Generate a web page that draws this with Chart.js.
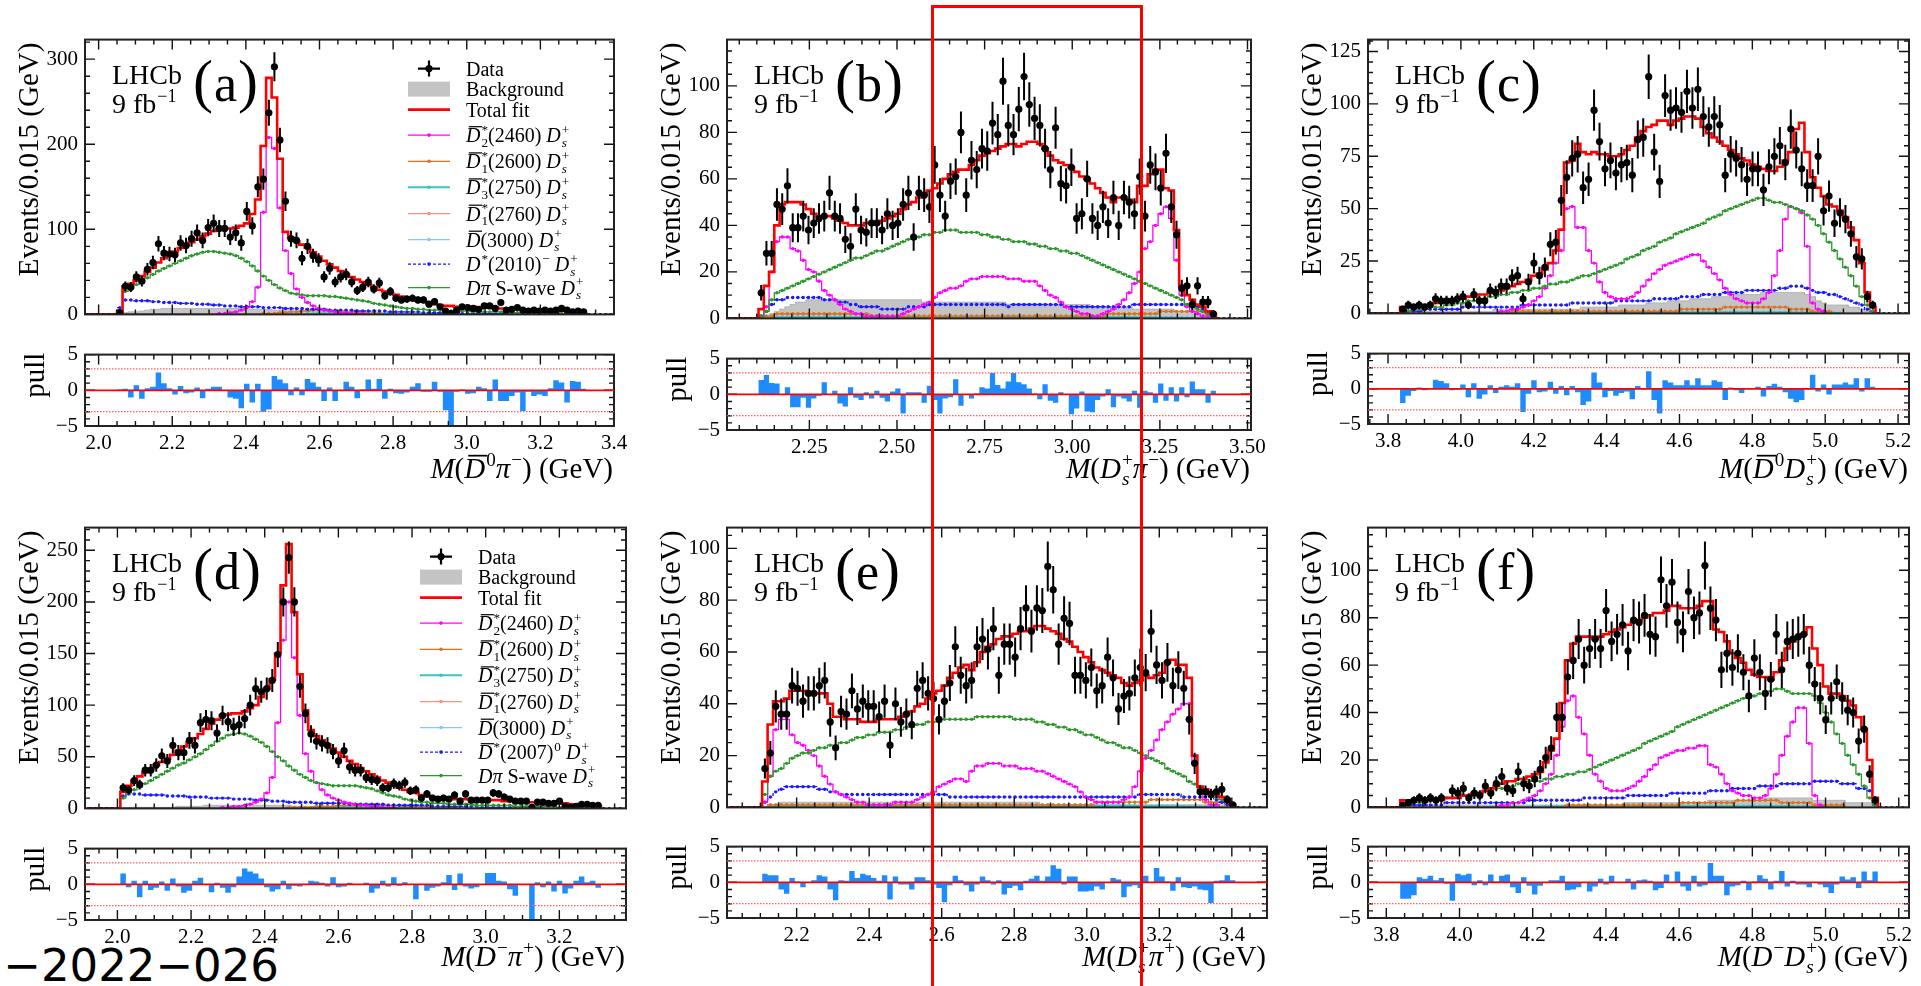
<!DOCTYPE html>
<html>
<head>
<meta charset="utf-8">
<script src="https://cdn.jsdelivr.net/npm/chart.js@4.4.1/dist/chart.umd.min.js"></script>
<style>
  body { margin: 0; width: 1921px; height: 986px; overflow: hidden; position: relative; background: #fff; }
  canvas { position: absolute; }
  #box { position: absolute; left: 931px; top: 5px; width: 212px; height: 1000px; border: 3px solid #ff0000; box-sizing: border-box; }
  #tag { position: absolute; left: 0; top: 943px; width: 279px; text-align: right; font: 45px/45px "DejaVu Sans"; color: #000; }
</style>
</head>
<body>
<div id="tag">−2022−026</div>

<script>
var BIN = 0.015;

// ---- (a) M(D0bar pi-) ----
var a_x0 = 1.96;
var a_data = [0,0,0,0,0,0, 2,33,32,44,39,53,61,83,72,71, 70,84,81,89,96,87,102,107,101,101, 91,96,84,121,104,150,159,237,291,205, 133,89,87,66,80,69,64,44,54,38, 44,47,38,28,32,38,30,37,22,27, 19,17,18,19,17,17,12,15,9,4, 1,5,9,8,7,6,10,10,7,14, 5,6,8,5,4,5,4,5,4,5, 7,5,3,4,3, 0,0,0,0,0];
var a_fit = [0,0,0,0,0,0, 3,33,36,40,45,50,55,61,66,70, 74,78,81,85,88,92,95,98,100,101, 101,102,104,107,118,135,198,278,255,183, 97,90,86,82,78,73,68,63,59,55, 51,47,44,41,38,35,32,29,27,25, 23,21,19,18,16,15,13,12,11,10, 10,9,9,9,9,8,8,8,8,7, 7,7,7,6,6,6,6,5,5,5, 4,4,3,2,1];
var a_swave = [0,0,0,0,0,0, 0,27,31,35,39,43,47,51,54,57, 60,63,66,69,71,73,74,74,73,72, 71,69,66,62,57,51,45,40,35,31, 28,25,24,23,22,22,22,22,21,21, 20,19,18,17,16,15,13,12,11,10, 9,8,7,7,6,6,5,5,5,4, 4,4,4,4,3,3,3,3,3,3, 3,2,2,2,2,2,2,2,1,1, 1,1,1,1,1];
var a_d2 = [0,0,0,0,0,0, 0,0,0,0,0,0,0,0,0,0, 0,0,0,0,0,0,0,0,1,1, 2,3,5,8,15,32,120,208,195,125, 75,48,30,20,14,10,7,5,4,3, 2,2,1,1,1];
var a_dstar = [0,0,0,0,0,0, 8,17,17,16,16,16,15,15,14,14, 14,13,13,13,12,12,12,11,11,10, 10,10,9,9,9,9,8,8,8,8, 7,7,7,7,6,6,6,6,5,5, 5,5,5,4,4,4,4,4,4,3, 3,3,3,3,3,2,2,2,2,2, 2,2,1,1,1,1,1,1,1,1, 1,1,1,1];
var a_d1 = [0,0,0,0,0,0, 0,0,0,0,0,0,0,0,0,0, 0,0,0,0,0,0,0,0,0,0, 0,0,0,0,0,0,1,1,1,2, 2,3,3,4,4,5,5,5,5,4, 4,3,3,2,2,1,1,1];
var a_d3 = [0,0,0,0,0,0, 0,0,0,0,0,0,0,0,0,0, 0,0,0,0,0,0,0,0,0,0, 0,0,0,0,0,0,0,0,0,0, 0,0,0,0,0.5,0.5,1,1,1,1, 1,1,1,1,1,1,1,1,0.5,0.5];
var a_d1b = [0,0,0,0,0,0, 0,0,0,0,0,0,0,0,0,0, 0,0,0,0,0,0,0,0,0,0, 0,0,0,0,0,0,0,0,0,0, 0,0,0,0,0,0,0.5,0.5,0.5,0.5, 0.5,0.5,0.5,0.5,0.5,0.5];
var a_d3k = [0,0,0,0,0,0, 0,0,0,0,0,0,0,0,0,0, 0,0,0,0,0,0,0,0,0,0, 0,0,0,0,0,0,0,0,0,0, 0,0,0,0,0,0,0,0,0,0, 0,0,0,0,0,0,0,0,0.5,0.5, 1,1,1,1,1,1,1,1,1,1, 1,1,0.5,0.5];
var a_bkg = [0,0,0,0,0,0, 1,2,3,3,4,5,6,6,7,7, 7,7,7,7,7,7,7,7,7,7, 7,7,7,6,6,6,6,6,5,5, 5,5,5,4,4,4,4,4,4,3, 3,3,3,3,3,3,2,2,2,2, 2,2,2,2,2,2,2,1,1,1, 1,1,1,1,1,1,1,1,1,1, 1,1];
var a_pull = [0,0,0,0,0,0, 0.1,0.2,-1,0.7,-1.2,0.3,0.5,2.5,1.0,0.3, -0.6,0.6,-0.4,-0.3,0.4,-1.1,0.2,0.5,0.5,0, -1,-1.2,-2.5,0.9,-1.7,0.9,-3,-2.7,2,1.5, 1,-0.7,0.4,-0.7,1.6,1.1,0.5,-1.5,0.4,-1.5, 0,1.2,0.5,-1.1,0.1,1.5,0.2,1.6,-1.2,0.2, -0.4,-0.5,-0.3,0.5,1,-0.2,-0.2,1.2,-0.2,-2.8, -5,-0.2,0.1,-0.5,-0.4,0.5,0.3,-1.5,1.5,-1.5, -1.5,-0.8,-0.3,-2.9,-0.2,-0.8,-0.6,-0.8,0.3,1.4, 1.1,-1.7,1.3,1.2,0.2];

// ---- (b) M(Ds+ pi-) ----
var b_x0 = 2.015;
var b_data = [0,0,0,0,0,0, 11,28,28,49,47,57,39,39,44,38, 41,43,44,54,44,43,34,31,47,38, 37,41,41,38,45,40,41,49,54,35, 54,53,48,66,53,44,59,61,80,53, 68,64,73,72,84,79,102,83,79,90, 104,92,86,83,73,64,82,58,57,65, 43,45,60,43,40,48,41,52,40,52, 50,45,61,44,66,63,56,71,48,36, 13,14,6,14,7,7,2, 0,0,0,0,0,0];
var b_fit = [0,0,0,0,0,0, 4,14,20,40,49,50,50,50,49,47, 45,44,44,44,43,42,41,40,40,40, 41,41,41,42,43,44,45,47,49,50, 52,53,55,56,58,60,62,63,64,64, 66,68,70,71,72,73,74,75,75,74, 75,76,76,75,73,70,68,67,66,65, 63,61,60,58,56,54,52,50,52,52, 51,50,57,57,62,64,64,56,55,38, 14,10,8,6,5,3,2];
var b_swave = [0,0,0,0,0,0, 1,3,8,11,12,13,14,15,16,17, 18,19,20,21,22,23,24,25,26,26, 27,28,29,29,30,31,32,33,34,34, 35,36,36,37,37,38,38,38,37,37, 37,37,36,36,35,35,34,34,33,33, 33,32,32,31,31,30,30,29,29,28, 28,27,26,25,24,23,22,21,20,19, 18,17,16,15,14,13,12,11,10,9, 8,6,5,4,3,2,1];
var b_d2 = [0,0,0,0,0,0, 0,5,20,33,35,35,30,29,25,21, 20,16,12,10,8,6,4,3,2,2, 1,1,1,1,1,1,1,2,3,4, 5,6,7,9,11,12,13,13,14,16, 17,17,18,18,18,18,18,17,17,17, 16,16,16,14,12,10,9,7,5,4, 3,2,2,1,1,2,3,4,6,8, 11,15,20,30,33,40,45,48,43,25, 10,5,3,2,1,1,0];
var b_dstar = [0,0,0,0,0,0, 1,3,6,8,8,9,9,9,9,9, 9,9,8,8,8,7,7,6,6,5, 5,5,5,4,4,4,4,4,5,5, 5,5,6,6,6,6,6,6,6,6, 6,6,6,6,6,6,6,5,6,6, 6,6,6,6,6,6,6,6,5,5, 5,5,5,5,5,5,5,5,5,5, 5,6,6,6,6,6,6,6,6,6, 6,6,5,5,4,3,1];
var b_d1 = [0,0,0,0,0,0, 0,1,1,2,2,2,2,2,2,2, 2,2,2,2,2,2,2,2,2,2, 2,1,1,1,1,1,1,1,1,1, 1,1,1,1,1,1,1,1,1,1, 1,1,1,1,1,1,1,1,1,1, 1,1,1,1,1,1,1,1,1,1, 1,1,1,1,1,1,2,2,2,2, 2,2,2,2,2,2,3,3,3,3, 3,3,3,3,3,2,1];
var b_d3 = [0,0,0,0,0,0, 0,0.3,0.4,0.4,0.5,0.5,0.5,0.5,0.5,0.5, 0.5,0.5,0.5,0.5,0.5,0.5,0.5,0.5,0.5,0.5, 0.6,0.6,0.6,0.6,0.6,0.6,0.6,0.6,0.6,0.6, 0.6,0.6,0.6,0.6,0.6,0.6,0.6,0.6,0.6,0.6, 0.6,0.6,0.6,0.6,0.6,0.6,0.6,0.6,0.6,0.6, 0.5,0.5,0.5,0.5,0.5,0.5,0.5,0.5,0.5,0.5, 0.5,0.5,0.5,0.5,0.5,0.5,0.5,0.5,0.5,0.5, 0.4,0.4,0.4,0.4,0.4,0.3,0.3,0.3,0.3,0.2, 0.2,0.2,0.1];
var b_d1b = [0,0,0,0,0,0, 0,0,0,0,0,0,0,0,0,0, 0,0,0,0,0,0,0,0,0,0, 0,0,0,0,0,0,0.3,0.3,0.3,0.3, 0.4,0.4,0.4,0.4,0.4,0.4,0.4,0.4,0.4,0.4, 0.4,0.4,0.4,0.3,0.3,0.3,0.3,0.3,0.3,0.3];
var b_d3k = [0,0,0,0,0,0, 0,0.4,0.5,0.5,0.6,0.6,0.6,0.6,0.6,0.6, 0.7,0.7,0.7,0.7,0.7,0.7,0.7,0.7,0.7,0.7, 0.7,0.7,0.7,0.7,0.7,0.7,0.7,0.7,0.7,0.7, 0.8,0.8,0.8,0.8,0.8,0.8,0.8,0.8,0.8,0.8, 0.8,0.8,0.8,0.8,0.8,0.8,0.8,0.8,0.8,0.8, 0.8,0.8,0.8,0.8,0.8,0.8,0.8,0.8,0.8,0.8, 0.8,0.8,0.8,0.8,0.8,0.8,0.8,0.8,0.8,0.8, 0.7,0.7,0.7,0.7,0.6,0.6,0.5,0.5,0.4,0.3, 0.2,0.1];
var b_bkg = [0,0,0,0,0,0, 0,1,2,3,4,5,6,7,7,8, 8,8,8,8,8,8,8,8,8,8, 8,8,8,8,8,8,8,8,8,8, 8,7,7,7,7,7,7,7,7,7, 7,7,7,7,7,7,7,6,6,6, 6,6,6,6,6,6,6,6,6,6, 6,6,6,5,5,5,5,5,5,5, 5,4,4,4,4,4,4,4,4,3, 3,3,3,3,3,2,1];
var b_pull = [0,0,0,0,0,0, 2.0,2.7,1.6,1.5,0,1.0,-1.8,-1.8,-0.5,-1.9, -0.6,-0.2,1.7,-0.1,0.5,-1.3,-1.7,1.0,-0.5,-0.8, 0.3,-0.6,0.5,-0.5,-1.0,0.4,0.8,-2.7,0.3,0.3, 0.3,-1.2,1.2,-0.8,-2.7,-0.6,-0.4,2.1,-1.6,0, -0.6,0.1,1.0,0.8,3.0,1.3,0.8,1.8,3.0,1.7, 1.4,0.8,0.1,-0.7,1.4,-0.9,-1.2,0.3,-0.1,-2.8, -2.0,0.4,-2.4,-2.5,-0.8,-0.3,0.7,-1.8,-0.3,-0.6, -1.0,0.5,-1.9,0.5,0.3,-1.2,1.5,-0.9,1.0,-1.0, 1.0,-0.4,1.8,0.7,0.7,-1.2,0.5];

// ---- (c) M(D0bar Ds+) ----
var c_x0 = 3.743;
var c_data = [0,0,0,0,0,0, 2,4,3,4,3,4,7,6,6,6, 7,8,4,9,6,6,11,10,13,13, 17,18,7,15,24,18,22,33,34,54, 65,74,76,60,64,97,82,69,73,67, 71,72,66,83,84,113,77,63,104,97, 98,96,106,98,107,94,89,94,90,66, 76,74,71,64,69,69,59,70,75,80, 72,88,78,69,61,61,75,49,56,43, 48,45,38,27,26,8,4, 0,0,0,0,0,0];
var c_fit = [0,0,0,0,0,0, 3,3,3,4,4,4,5,5,6,6, 7,7,8,8,9,9,10,11,11,12, 13,14,15,16,18,19,21,24,30,40, 72,73,81,77,76,77,76,76,75,75, 76,78,80,84,87,89,90,92,92,90, 92,93,94,94,93,89,86,84,82,80, 78,76,74,73,71,70,69,68,68,70, 73,77,88,91,77,65,60,56,52,51, 49,46,41,35,24,10,3];
var c_swave = [0,0,0,0,0,0, 1,1,2,2,2,3,3,3,4,4, 5,5,6,6,7,7,8,8,9,9, 10,10,11,11,12,12,13,14,14,15, 15,16,17,18,18,19,20,21,22,23, 24,26,27,28,30,31,32,34,35,36, 38,39,40,41,42,43,45,46,47,49, 50,51,52,53,54,55,55,54,53,53, 52,51,50,49,47,45,42,38,34,30, 26,22,18,13,8,4,1];
var c_d2 = [0,0,0,0,0,0, 0,0,0,0,0,0,0,0,0,0, 0,0,0,0,0,0,0,0,1,1, 2,2,3,4,6,8,12,18,24,30, 50,51,41,41,30,24,15,10,8,7, 7,7,8,10,13,16,19,21,23,24, 25,26,27,28,28,25,22,19,16,12, 9,7,6,5,5,5,7,10,18,30, 45,51,50,48,32,5,2,1];
var c_dstar = [0,0,0,0,0,0, 1,1,1,1,2,2,2,2,2,2, 2,3,3,3,3,3,3,3,3,3, 3,3,4,4,4,4,4,4,4,4, 4,5,5,5,5,5,5,5,5,6, 6,6,6,6,6,6,7,7,7,7, 7,8,8,8,8,9,9,9,9,10, 10,10,10,11,11,11,11,11,11,12, 12,13,13,13,12,11,10,10,9,9, 8,7,6,5,4,2,1];
var c_d1 = [0,0,0,0,0,0, 0,0,0,0,0,0,0,0,0,0, 0,0,0,0,0,0,0,0,0,0, 1,1,1,1,1,1,1,1,1,1, 1,1,1,1,1,1,1,1,1,1, 1,1,1,1,1,1,1,1,1,1, 1,2,2,2,2,2,2,2,2,3, 3,3,3,3,3,3,3,3,3,3, 3,2,2,2,2,1,1,1,1];
var c_d3 = [0,0,0,0,0,0, 0,0,0,0,0,0,0,0,0,0, 0,0,0,0,0,0,0,0,0,0, 0,0,0,0,0,0,0.3,0.3,0.4,0.4, 0.4,0.5,0.5,0.5,0.5,0.5,0.5,0.5,0.5,0.5, 0.5,0.5,0.5,0.5,0.5,0.5,0.5,0.5,0.5,0.5, 0.5,0.5,0.5,0.5,0.5,0.5,0.5,0.5,0.5,0.5, 0.5,0.5,0.5,0.5,0.5,0.5,0.5,0.5,0.5,0.5, 0.5,0.4,0.4,0.4,0.3,0.3,0.3,0.2,0.2,0.2, 0.1];
var c_d1b = [0,0,0,0,0,0, 0,0,0,0,0,0,0,0,0,0, 0,0,0,0,0,0,0,0,0,0, 0,0,0,0,0,0,0,0,0,0, 0,0,0,0,0.3,0.3,0.3,0.3,0.3,0.3, 0.3,0.3,0.3,0.3,0.3,0.3,0.3,0.3,0.3,0.3, 0.3,0.3,0.3,0.3,0.3,0.3,0.3,0.3,0.3,0.3];
var c_d3k = [0,0,0,0,0,0, 0,0,0,0,0,0,0,0,0,0, 0,0,0,0,0.3,0.3,0.3,0.3,0.4,0.4, 0.4,0.4,0.4,0.4,0.5,0.5,0.5,0.5,0.5,0.5, 0.5,0.5,0.5,0.5,0.5,0.5,0.5,0.5,0.5,0.5, 0.5,0.5,0.5,0.5,0.5,0.5,0.5,0.5,0.5,0.5, 0.5,0.5,0.5,0.5,0.5,0.5,0.5,0.5,0.5,0.5, 0.4,0.4,0.4,0.4,0.4,0.4,0.4,0.4,0.3,0.3, 0.3,0.3,0.3,0.2,0.2,0.2,0.1];
var c_bkg = [0,0,0,0,0,0, 0,0,0,1,1,1,1,1,1,1, 1,1,1,1,1,1,1,2,2,2, 2,2,2,2,2,2,2,2,2,2, 2,2,2,3,3,3,3,3,3,3, 4,4,4,4,4,5,5,5,5,6, 6,6,6,7,7,7,7,8,8,8, 8,9,9,9,9,9,10,10,10,10, 10,10,10,10,9,8,6,5,4,4, 4,4,3,3,2,1,1];
var c_pull = [0,0,0,0,0,0, -2.0,-1.0,-0.3,0.2,-0.2,0,1.3,1.1,0.8,-0.2, -0.1,0.6,-1.2,0.8,-1.4,-0.8,0.5,-0.6,0.3,0.5, 0.3,0.8,-3.3,-0.7,1.2,-0.5,-0.4,1.0,-0.7,0.4, -0.9,0.4,-0.5,-2.3,-1.8,2.3,0.9,-1.2,-0.3,-1.0, -0.6,-0.4,-1.5,0.4,-0.1,2.5,-1.6,-3.5,1.2,0.9, 0.5,0.5,1.2,0.5,1.5,0.5,0.5,1.2,1.0,-1.6, 0.2,-0.2,-0.6,0.1,0.1,0.3,-1.1,0.4,0.7,0.3, -0.5,-1.4,-1.9,-1.6,-0.1,2.0,-0.4,0.6,-0.8,0.6, 0.6,0.9,0.6,1.5,-0.4,1.5,0.3];

// ---- (d) M(D- pi+) ----
var d_x0 = 1.918;
var d_data = [0,0,0,0,0,0, 20,18,27,23,37,37,42,51,46,61, 54,54,66,61,83,86,85,73,90,84, 79,81,87,100,116,113,116,124,149,200, 243,200,118,92,72,65,63,61,55,46, 56,40,37,37,30,28,27,20,20,24, 22,25,17,18,10,14,10,9,10,9, 13,7,14,8,8,8,8,15,14,11, 9,7,7,7,1,6,6,5,5,7, 2,1,2,4,4,3,3, 0,0,0,0];
var d_fit = [0,0,0,0,0,0, 16,22,27,31,35,38,42,45,48,52, 56,60,64,68,72,77,82,86,90,91, 92,92,94,97,100,108,116,125,150,216, 256,190,130,95,76,70,66,62,58,54, 50,46,43,39,36,33,30,27,25,22, 20,18,16,15,13,12,11,10,10,9, 9,9,9,9,8,8,8,8,8,7, 7,7,7,6,6,6,6,5,5,5, 5,4,4,4,3,3,2];
var d_swave = [0,0,0,0,0,0, 10,15,18,21,24,27,30,33,36,39, 42,44,47,50,53,57,61,65,68,71, 72,73,72,70,67,64,60,55,50,46, 41,37,33,30,27,25,24,23,22,22, 22,22,22,21,20,19,17,15,13,12, 11,9,8,7,6,6,5,5,5,4, 4,4,4,4,3,3,3,3,3,3, 3,2,2,2,2,2,2,2,2,1, 1,1,1,1,1,1,1];
var d_d2 = [0,0,0,0,0,0, 0,0,0,0,0,0,0,0,0,0, 0,0,0,0,0,0,0,0,1,1, 2,2,3,4,6,9,15,30,83,163, 200,146,90,53,36,25,18,13,10,8, 6,5,4,3,3,2,2,1,1,1];
var d_dstar = [0,0,0,0,0,0, 12,14,14,14,13,13,13,13,12,12, 12,12,11,11,11,11,10,10,10,10, 9,9,9,9,8,8,8,7,7,7, 6,6,6,6,6,5,5,5,5,5, 5,4,4,4,4,4,4,4,3,3, 3,3,3,3,3,3,2,2,2,2, 2,2,2,2,2,1,1,1,1,1, 1,1,1,1,1,1];
var d_d1 = [0,0,0,0,0,0, 0,0,0,0,0,0,0,0,0,0, 0,0,0,0,0,0,0,0,0,0, 0,0,0,0,0,0,0,0,0,0, 1,1,1,1,1,2,2,2,2,3, 3,3,3,3,3,3,3,3,3,3, 3,2,2,2,2,2,1,1,1,1, 1];
var d_d3 = [0,0,0,0,0,0, 0,0,0,0,0,0,0,0,0,0, 0,0,0,0,0,0,0,0,0,0, 0,0,0,0,0,0,0,0,0,0, 0,0,0,0,0,0.5,0.5,0.5,1,1, 1,1,1,1,1,1,1,1,0.5,0.5, 0.5,0.5];
var d_d1b = [0,0,0,0,0,0, 0,0,0,0,0,0,0,0,0,0, 0,0,0,0,0,0,0,0,0,0, 0,0,0,0,0,0,0,0,0,0, 0,0,0,0,0,0,0,0.5,0.5,0.5, 0.5,0.5,0.5,0.5,0.5,0.5,0.5,0.5];
var d_d3k = [0,0,0,0,0,0, 0,0,0,0,0,0,0,0,0,0, 0,0,0,0,0,0,0,0,0,0, 0,0,0,0,0,0,0,0,0,0, 0,0,0,0,0,0,0,0,0,0, 0,0,0,0,0,0,0,0,0.5,0.5, 0.5,1,1,1,1,1,1,1,1,1, 1,0.5,0.5,0.5];
var d_bkg = [0,0,0,0,0,0, 1,1,1,1,1,1,1,1,1,1, 2,2,2,2,2,3,3,3,3,3, 3,3,3,3,3,3,3,3,3,3, 3,2,2,2,2,2,2,2,2,2, 2,2,2,2,2,2,2,2,2,2, 2,1,1,1,1,1,1,1,1,1, 1,1,1,1,1,1,1,1,1,1, 1,1,1,1,1,1,1,1,1,1, 1,1,1,1,1,1,1];
var d_pull = [0,0,0,0,0,0, 1.5,-0.4,0.5,-1.8,0.5,-0.8,-0.5,0.4,-0.9,0.8, -0.3,-1.2,-0.9,0.5,0.9,0,-1.1,0.2,-0.5,-1.2, -0.4,1.1,2.2,1.8,1.5,0.8,-0.4,-1.0,-0.7,0.5, -0.7,-0.2,-0.3,0,0.5,0.4,0.2,-0.3,1.0,-0.4, -0.3,0.2,0,0,0.2,-1.2,-0.6,0.5,-0.3,1.0, -0.2,0.3,0,-2.1,0,-0.9,-0.5,-0.3,0.3,1.3, -0.8,1.5,-0.3,-0.6,-0.4,0,1.6,1.6,0.5,0.4, -0.7,-1.6,0,0,-5,0.3,-0.4,0.4,-1.0,0.5, -1.3,-0.6,0.5,1.1,0.3,0.5,-0.5];

// ---- (e) M(Ds+ pi+) ----
var e_x0 = 2.015;
var e_data = [0,0,0,0,0,0, 15,21,39,36,36,47,46,41,44,44, 47,49,33,23,37,36,45,38,41,39, 39,35,41,24,40,33,36,32,46,49, 44,42,34,41,48,62,51,47,49,62, 65,61,69,51,63,63,58,69,77,68, 77,76,93,84,63,73,71,51,51,49, 54,45,47,58,50,38,43,44,50,54, 52,68,55,49,56,47,53,46,34,17, 6,6,5,6,7,3,1, 0,0,0,0,0];
var e_fit = [0,0,0,0,0,0, 10,32,41,41,42,45,45,45,44,44, 44,44,40,35,35,34,34,34,33,33, 33,34,34,34,34,35,36,37,39,40, 42,44,45,47,50,52,54,55,53,56, 60,62,63,65,66,66,67,68,68,69, 70,70,69,68,67,65,64,62,60,58, 56,54,53,52,51,50,48,47,48,49, 51,50,51,52,56,57,55,55,50,20, 8,7,6,5,4,3,1];
var e_swave = [0,0,0,0,0,0, 5,12,14,15,17,19,20,21,21,22, 23,23,24,24,25,25,26,27,27,28, 28,29,29,29,30,30,31,31,32,32, 33,33,33,34,34,34,34,34,34,35, 35,35,35,35,35,35,34,34,34,34, 33,33,32,32,31,31,30,30,29,28, 28,27,26,25,25,24,23,23,22,21, 20,19,18,17,15,14,13,12,10,9, 7,6,5,4,3,2,1];
var e_d2 = [0,0,0,0,0,0, 2,12,30,34,34,28,25,24,22,20, 16,12,9,6,5,4,3,2,2,1, 1,1,1,1,2,2,2,2,3,4, 5,6,8,9,10,11,11,10,14,16, 16,17,17,17,16,16,16,15,15,15, 14,14,13,12,11,10,9,8,6,4, 3,2,2,2,2,2,3,4,8,14, 19,22,26,30,33,36,38,40,40,17, 8,3,1,1];
var e_dstar = [0,0,0,0,0,0, 2,4,6,7,8,8,8,8,8,8, 7,7,6,6,5,5,5,5,5,5, 5,5,5,5,5,5,5,5,5,5, 5,5,5,5,4,4,4,4,4,4, 4,4,4,4,4,4,4,4,4,4, 4,4,4,4,4,4,4,4,4,4, 4,4,4,4,4,4,4,4,4,5, 5,5,5,5,5,5,5,4,4,4, 4,4,4,3,2,1,1];
var e_d1 = [0,0,0,0,0,0, 0,1,1,1,1,1,1,1,1,1, 1,1,1,1,1,1,1,1,1,1, 1,1,1,1,1,1,1,1,1,1, 1,1,1,1,1,1,1,1,1,1, 1,1,1,1,1,1,1,1,1,1, 1,1,1,1,1,1,1,1,1,1, 1,2,2,2,2,2,2,2,2,2, 2,3,3,3,3,3,3,3,3,3, 3,2,2,2,2,1,1];
var e_d3 = [0,0,0,0,0,0, 0,0.3,0.4,0.4,0.5,0.5,0.5,0.5,0.5,0.5, 0.5,0.5,0.5,0.5,0.5,0.5,0.5,0.5,0.5,0.5, 0.6,0.6,0.6,0.6,0.6,0.6,0.6,0.6,0.6,0.6, 0.6,0.6,0.6,0.6,0.6,0.6,0.6,0.6,0.6,0.6, 0.6,0.6,0.6,0.6,0.6,0.6,0.6,0.6,0.6,0.6, 0.5,0.5,0.5,0.5,0.5,0.5,0.5,0.5,0.5,0.5, 0.5,0.5,0.5,0.5,0.5,0.5,0.5,0.5,0.5,0.5, 0.4,0.4,0.4,0.4,0.4,0.3,0.3,0.3,0.3,0.2, 0.2,0.2,0.1];
var e_d1b = [0,0,0,0,0,0, 0,0,0,0,0,0,0,0,0,0, 0,0,0,0,0,0,0,0,0,0, 0,0,0,0,0,0,0.3,0.3,0.3,0.3, 0.4,0.4,0.4,0.4,0.4,0.4,0.4,0.4,0.4,0.4, 0.4,0.4,0.4,0.3,0.3,0.3,0.3,0.3,0.3,0.3];
var e_d3k = [0,0,0,0,0,0, 0,0.4,0.5,0.5,0.6,0.6,0.6,0.6,0.6,0.6, 0.7,0.7,0.7,0.7,0.7,0.7,0.7,0.7,0.7,0.7, 0.7,0.7,0.7,0.7,0.7,0.7,0.7,0.7,0.7,0.7, 0.8,0.8,0.8,0.8,0.8,0.8,0.8,0.8,0.8,0.8, 0.8,0.8,0.8,0.8,0.8,0.8,0.8,0.8,0.8,0.8, 0.8,0.8,0.8,0.8,0.8,0.8,0.8,0.8,0.8,0.8, 0.8,0.8,0.8,0.8,0.8,0.8,0.8,0.8,0.8,0.8, 0.7,0.7,0.7,0.7,0.6,0.6,0.5,0.5,0.4,0.3, 0.2,0.1];
var e_bkg = [0,0,0,0,0,0, 0,1,1,2,2,2,2,2,2,2, 2,2,2,2,2,2,2,2,2,2, 2,2,2,2,2,2,2,2,2,2, 2,2,2,2,2,2,2,2,2,2, 2,2,2,2,2,2,2,2,2,2, 2,1,1,1,1,1,1,1,1,1, 1,1,1,1,1,1,1,1,1,1, 1,1,1,1,1,1,1,1,1,1, 1,1,1,1,1,1,1];
var e_pull = [0,0,0,0,0,0, 1.2,1.0,1.0,-1.0,-1.6,0.6,0.1,-0.7,0,0.3, 1.0,0.8,-1.0,-2.5,0.3,0.2,1.6,0.6,1.2,1.0, 0.6,0.2,1.0,-2.4,0.8,-0.3,-0.3,-1.0,0.7,0.7, 0.3,-0.3,-0.8,-2.8,-0.4,0.9,0.3,-0.4,-1.3,-0.3, 0.8,0.3,-0.3,0.3,-1.7,-0.8,-0.5,-1.1,0.2,0.5, 0.9,0.2,0.8,2.4,1.9,-0.3,0.8,0.8,-1.3,-1.3, -1.2,-0.6,-1.0,0,0.6,0.4,-2.1,-0.6,-0.4,-0.8, 0.9,0,2.0,0.8,0.1,-1.2,0.7,-0.7,-0.8,-0.6, -1.0,-1.1,-2.9,0.2,0.3,1.0,0.3];

// ---- (f) M(D- Ds+) ----
var f_x0 = 3.748;
var f_data = [0,0,0,0,0,0, 1,2,3,4,3,4,3,4,0,7, 6,8,4,6,5,9,6,10,13,8, 7,15,10,9,12,16,21,25,38,38, 55,62,71,60,67,71,67,83,70,73, 77,66,79,78,81,73,72,96,85,95, 78,74,91,80,82,102,84,79,58,65, 59,65,57,47,63,57,48,54,73,58, 70,71,72,73,60,52,46,37,46,53, 46,41,40,28,33,14,3, 0,0,0,0,0];
var f_fit = [0,0,0,0,0,0, 3,3,3,3,3,3,3,3,4,4, 4,5,5,6,6,7,8,9,10,11, 11,12,12,13,14,15,19,24,29,44, 62,69,72,72,72,71,72,73,74,75, 76,77,78,79,80,81,82,82,83,85, 85,84,84,84,85,87,87,75,74,70, 65,63,61,58,56,55,55,54,57,62, 67,70,72,73,76,67,60,51,48,48, 47,45,43,38,33,20,4];
var f_swave = [0,0,0,0,0,0, 1,1,2,2,2,3,3,3,4,4, 4,5,5,6,6,7,7,8,8,9, 9,10,10,11,11,11,12,12,13,13, 14,14,15,15,16,17,18,19,20,21, 22,23,24,25,27,28,29,30,31,32, 34,35,36,37,38,39,40,41,42,43, 44,45,46,47,47,48,49,49,50,50, 49,48,48,48,48,47,44,40,36,31, 27,22,18,14,9,4,1];
var f_d2 = [0,0,0,0,0,0, 0,0,0,0,0,0,0,0,0,0, 0,0,0,0,0,0,0,0,1,1, 2,2,3,4,5,7,10,14,22,34, 45,47,38,31,22,14,11,8,7,7, 7,8,9,11,13,16,18,21,22,23, 24,24,25,25,26,26,18,17,14,10, 7,6,5,5,4,4,5,8,14,22, 30,36,42,42,27,5,1];
var f_dstar = [0,0,0,0,0,0, 1,1,1,1,1,1,1,1,2,2, 2,2,2,2,2,2,2,2,2,2, 2,2,2,3,3,3,3,3,3,3, 3,3,3,4,4,4,4,4,4,4, 4,5,5,5,5,5,5,5,5,6, 6,6,6,6,6,6,7,7,7,7, 8,8,8,8,8,9,9,9,9,10, 10,10,10,10,10,11,11,11,11,11, 10,10,10,8,8,7,1];
var f_d1 = [0,0,0,0,0,0, 0,0,0,0,0,0,0,0,0,0, 0,0,0,0,0,0,0,0,0,0, 0,0,0,0,0,0,0,0,0,0, 1,1,1,1,1,1,1,1,1,1, 1,1,1,1,1,1,1,1,1,1, 1,2,2,2,2,2,2,2,2,2, 2,3,3,3,3,3,3,3,3,2, 2,2,2,2,2,1,1,1,1,1, 1];
var f_d3 = [0,0,0,0,0,0, 0,0,0,0,0,0,0,0,0,0, 0,0,0,0,0,0,0,0,0,0, 0,0,0,0,0,0,0.3,0.3,0.4,0.4, 0.4,0.5,0.5,0.5,0.5,0.5,0.5,0.5,0.5,0.5, 0.5,0.5,0.5,0.5,0.5,0.5,0.5,0.5,0.5,0.5, 0.5,0.5,0.5,0.5,0.5,0.5,0.5,0.5,0.5,0.5, 0.5,0.5,0.5,0.5,0.5,0.5,0.5,0.5,0.5,0.5, 0.5,0.4,0.4,0.4,0.3,0.3,0.3,0.2,0.2,0.2, 0.1];
var f_d1b = [0,0,0,0,0,0, 0,0,0,0,0,0,0,0,0,0, 0,0,0,0,0,0,0,0,0,0, 0,0,0,0,0,0,0,0,0,0, 0,0,0,0,0.3,0.3,0.3,0.3,0.3,0.3, 0.3,0.3,0.3,0.3,0.3,0.3,0.3,0.3,0.3,0.3, 0.3,0.3,0.3,0.3,0.3,0.3,0.3,0.3,0.3,0.3];
var f_d3k = [0,0,0,0,0,0, 0,0,0,0,0,0,0,0,0,0, 0,0,0,0,0.3,0.3,0.3,0.3,0.4,0.4, 0.4,0.4,0.4,0.4,0.5,0.5,0.5,0.5,0.5,0.5, 0.5,0.5,0.5,0.5,0.5,0.5,0.5,0.5,0.5,0.5, 0.5,0.5,0.5,0.5,0.5,0.5,0.5,0.5,0.5,0.5, 0.5,0.5,0.5,0.5,0.5,0.5,0.5,0.5,0.5,0.5, 0.4,0.4,0.4,0.4,0.4,0.4,0.4,0.4,0.3,0.3, 0.3,0.3,0.3,0.2,0.2,0.2,0.1];
var f_bkg = [0,0,0,0,0,0, 1,1,1,1,1,1,1,1,1,1, 1,1,1,1,1,1,1,1,1,1, 1,1,1,1,1,1,1,1,1,1, 1,1,1,1,1,1,1,1,1,1, 1,2,2,2,2,2,2,2,2,2, 2,2,2,2,2,2,3,3,3,3, 3,3,3,3,3,3,4,4,4,4, 4,4,4,4,4,3,3,3,3,3, 3,2,2,2,2,2,2];
var f_pull = [0,0,0,0,0,0, -2.3,-2.3,-1.8,0.7,0.5,0.9,0.3,0.6,-0.2,-2.6, 1.2,1.0,1.2,-0.4,0.3,-0.4,1.1,0.1,0.9,1.1, -0.7,-1.5,0.7,-0.5,-1.7,-0.5,0,0.3,0.3,0.9, -1.1,-1.0,-0.7,0,-1.3,-0.6,0.5,-0.3,0.9,0, 0,0.5,-1.0,0.3,0.4,0.2,-1.1,-0.8,1.1,0, 1.5,-0.6,-1.2,0.9,-0.6,-0.4,2.7,0.9,0.9,-1.8, -0.6,-0.4,0.2,-1.1,0.1,1.0,0.5,-1.0,0.2,1.6, -0.6,0.2,-0.3,-0.3,-0.7,0,-0.3,-0.7,-1.5,-0.3, 0.8,0.4,0.7,-0.8,1.5,0.3,1.5];

// ---------------------------------------------------------------
var SERIF = '"Liberation Serif", "Times New Roman", serif';

// component styles: D(3000), D1*(2760), D3*(2750), D1*(2600), D*, D2*(2460), S-wave
var COMP = [
  { c: '#86c6f2', w: 1.2 },
  { c: '#f5937f', w: 1.2 },
  { c: '#38c4c4', w: 2 },
  { c: '#e0701e', w: 1.3 },
  { c: '#1a1aff', w: 1.4, dash: [3, 2] },
  { c: '#ff00ff', w: 1.3 },
  { c: '#2c962c', w: 1.3 }
];

var DS = [['D', 'i'], ['+', 'uk'], ['s', 'di']];
var LEG_COMMON = [
  { k: 'data', t: [['Data']] },
  { k: 'bkg', t: [['Background']] },
  { k: 'fit', t: [['Total fit']] },
  { k: 5, t: [['D', 'io'], ['*', 'uk'], ['2', 'd'], ['(2460) ']].concat(DS) },
  { k: 3, t: [['D', 'io'], ['*', 'uk'], ['1', 'd'], ['(2600) ']].concat(DS) },
  { k: 2, t: [['D', 'io'], ['*', 'uk'], ['3', 'd'], ['(2750) ']].concat(DS) },
  { k: 1, t: [['D', 'io'], ['*', 'uk'], ['1', 'd'], ['(2760) ']].concat(DS) },
  { k: 0, t: [['D', 'io'], ['(3000) ']].concat(DS) }
];
var LEG_SWAVE = { k: 6, t: [['D', 'i'], ['π', 'i'], [' S-wave ']].concat(DS) };
var LEG_A = LEG_COMMON.concat([{ k: 4, t: [['D', 'i'], ['*', 'u'], ['(2010)'], ['−', 'u'], [' ']].concat(DS) }, LEG_SWAVE]);
var LEG_D = LEG_COMMON.concat([{ k: 4, t: [['D', 'io'], ['*', 'u'], ['(2007)'], ['0', 'u'], [' ']].concat(DS) }, LEG_SWAVE]);
var LEG_ROWS = [29, 49.5, 70, 95.5, 121.7, 147.7, 174, 200, 224.5, 248];

var PANELS = [
  { tag: 'a', box: [85, 35, 614, 319], pbox: [350, 426], xr: [1.963, 3.4], ymax: 323, ymaj: 100, ymin: 20, xmaj: 0.2, dec: 1, titleY: 478,
    x0: a_x0, data: a_data, fit: a_fit, bkg: a_bkg, comps: [a_d3k, a_d1b, a_d3, a_d1, a_dstar, a_d2, a_swave], pull: a_pull,
    xt: [['M', 'i'], ['('], ['D', 'io'], ['0', 'u'], ['π', 'i'], ['−', 'u'], [') (GeV)']], leg: { sx: 323, tx: 381, rows: LEG_A } },
  { tag: 'b', box: [727, 35, 1251, 323], pbox: [354, 430], xr: [2.015, 3.51], ymax: 119.9, ymaj: 20, ymin: 5, xmaj: 0.25, dec: 2, titleY: 478,
    x0: b_x0, data: b_data, fit: b_fit, bkg: b_bkg, comps: [b_d3k, b_d1b, b_d3, b_d1, b_dstar, b_d2, b_swave], pull: b_pull,
    xt: [['M', 'i'], ['('], ['D', 'i'], ['+', 'uk'], ['s', 'di'], ['π', 'i'], ['−', 'u'], [') (GeV)']] },
  { tag: 'c', box: [1368, 35, 1909, 318], pbox: [349, 424], xr: [3.745, 5.23], ymax: 130.7, ymaj: 25, ymin: 5, xmaj: 0.2, dec: 1, titleY: 478,
    x0: c_x0, data: c_data, fit: c_fit, bkg: c_bkg, comps: [c_d3k, c_d1b, c_d3, c_d1, c_dstar, c_d2, c_swave], pull: c_pull,
    xt: [['M', 'i'], ['('], ['D', 'io'], ['0', 'u'], ['D', 'i'], ['+', 'uk'], ['s', 'di'], [') (GeV)']] },
  { tag: 'd', box: [85, 523, 626, 813], pbox: [844, 920], xr: [1.912, 3.381], ymax: 272, ymaj: 50, ymin: 10, xmaj: 0.2, dec: 1, titleY: 966,
    x0: d_x0, data: d_data, fit: d_fit, bkg: d_bkg, comps: [d_d3k, d_d1b, d_d3, d_d1, d_dstar, d_d2, d_swave], pull: d_pull,
    xt: [['M', 'i'], ['('], ['D', 'i'], ['−', 'u'], ['π', 'i'], ['+', 'u'], [') (GeV)']], leg: { sx: 335, tx: 393, rows: LEG_D } },
  { tag: 'e', box: [727, 523, 1267, 812], pbox: [842, 918], xr: [2.008, 3.497], ymax: 108, ymaj: 20, ymin: 5, xmaj: 0.2, dec: 1, titleY: 966,
    x0: e_x0, data: e_data, fit: e_fit, bkg: e_bkg, comps: [e_d3k, e_d1b, e_d3, e_d1, e_dstar, e_d2, e_swave], pull: e_pull,
    xt: [['M', 'i'], ['('], ['D', 'i'], ['+', 'uk'], ['s', 'di'], ['π', 'i'], ['+', 'u'], [') (GeV)']] },
  { tag: 'f', box: [1368, 523, 1909, 812], pbox: [842, 918], xr: [3.75, 5.228], ymax: 118, ymaj: 20, ymin: 5, xmaj: 0.2, dec: 1, titleY: 966,
    x0: f_x0, data: f_data, fit: f_fit, bkg: f_bkg, comps: [f_d3k, f_d1b, f_d3, f_d1, f_dstar, f_d2, f_swave], pull: f_pull,
    xt: [['M', 'i'], ['('], ['D', 'i'], ['−', 'u'], ['D', 'i'], ['+', 'uk'], ['s', 'di'], [') (GeV)']] }
];

// histogram outline: bin edges plus a marked centre point per bin
function steps(x0, vals) {
  var pts = [];
  vals.forEach(function (v, i) {
    var lo = x0 + i * BIN;
    pts.push({ x: lo, y: v }, { x: lo + BIN / 2, y: v, c: 1 }, { x: lo + BIN, y: v });
  });
  pts.push({ x: x0 + vals.length * BIN, y: 0 });
  return pts;
}
function centres(x0, vals) {
  return vals.map(function (v, i) { return { x: x0 + (i + 0.5) * BIN, y: v }; });
}

// small rich-text writer: flags i=italic o=overline u=sup d=sub k=keep x (stack next)
function rich(ctx, x, y, size, toks, right) {
  var parts = toks.map(function (tk) {
    var f = tk[1] || '';
    var fs = /[ud]/.test(f) ? size * 0.66 : size;
    var font = (f.indexOf('i') >= 0 ? 'italic ' : '') + fs + 'px ' + SERIF;
    ctx.font = font;
    return { t: tk[0], f: f, font: font, w: ctx.measureText(tk[0]).width };
  });
  var total = 0, keep = 0;
  parts.forEach(function (p) {
    var dx = /[ud]/.test(p.f) ? 1 : 0;
    if (p.f.indexOf('k') >= 0) keep = p.w; else { total += Math.max(p.w, keep) + dx; keep = 0; }
  });
  var cx = right ? x - total : x;
  keep = 0;
  ctx.textAlign = 'left';
  ctx.textBaseline = 'alphabetic';
  parts.forEach(function (p) {
    ctx.font = p.font;
    var dy = p.f.indexOf('u') >= 0 ? -0.42 * size : (p.f.indexOf('d') >= 0 ? 0.24 * size : 0);
    var dx = /[ud]/.test(p.f) ? 1 : 0;
    ctx.fillText(p.t, cx + dx, y + dy);
    if (p.f.indexOf('o') >= 0) ctx.fillRect(cx + 0.14 * size, y - 0.8 * size, p.w - 0.06 * size, Math.max(1.2, size * 0.06));
    if (p.f.indexOf('k') >= 0) keep = p.w; else { cx += Math.max(p.w, keep) + dx; keep = 0; }
  });
}

function tickLoop(scale, minor, major, fn) {
  var n0 = Math.ceil(scale.min / minor - 1e-6);
  for (var n = n0; n * minor <= scale.max + 1e-9; n++) {
    var v = n * minor, r = v / major;
    fn(scale.getPixelForValue(v), Math.abs(r - Math.round(r)) < 1e-4);
  }
}

// plain ticks in whole steps, never the axis end itself
function stepTicks(step) {
  return function (s) {
    var out = [];
    var n0 = Math.ceil(s.min / step - 1e-6);
    for (var n = n0; n * step <= s.max + 1e-9; n++) out.push({ value: Math.round(n * step * 1000) / 1000 });
    s.ticks = out;
  };
}

// frame with inward major/minor ticks on all four sides
var framePlugin = {
  id: 'frame',
  afterDatasetsDraw: function (chart, args, o) {
    var ctx = chart.ctx, a = chart.chartArea, sx = chart.scales.x, sy = chart.scales.y;
    ctx.save();
    ctx.strokeStyle = '#111';
    ctx.lineWidth = 1.4;
    ctx.beginPath();
    tickLoop(sx, o.xmin, o.xmaj, function (p, big) {
      var L = big ? 10 : 5;
      ctx.moveTo(p, a.bottom); ctx.lineTo(p, a.bottom - L);
      ctx.moveTo(p, a.top); ctx.lineTo(p, a.top + L);
    });
    tickLoop(sy, o.ymin, o.ymaj, function (p, big) {
      var L = big ? 10 : 5;
      ctx.moveTo(a.left, p); ctx.lineTo(a.left + L, p);
      ctx.moveTo(a.right, p); ctx.lineTo(a.right - L, p);
    });
    ctx.stroke();
    ctx.lineWidth = 2;
    ctx.strokeStyle = '#222';
    ctx.strokeRect(a.left, a.top, a.right - a.left, a.bottom - a.top);
    ctx.restore();
  }
};

// vertical Poisson error bars under the data markers
var errPlugin = {
  id: 'errs',
  beforeDatasetDraw: function (chart, args) {
    var ds = chart.data.datasets[args.index];
    if (!ds.poisson) return;
    var ctx = chart.ctx, sy = chart.scales.y;
    ctx.save();
    ctx.strokeStyle = '#000';
    ctx.lineWidth = 2;
    ctx.beginPath();
    args.meta.data.forEach(function (el, i) {
      var n = ds.data[i].y;
      if (n <= 0) return;
      var e = Math.sqrt(n);
      ctx.moveTo(el.x, sy.getPixelForValue(n - e));
      ctx.lineTo(el.x, sy.getPixelForValue(n + e));
    });
    ctx.stroke();
    ctx.restore();
  }
};

function legendSymbol(ctx, k, x, y) {
  ctx.save();
  if (k === 'data') {
    ctx.strokeStyle = '#000'; ctx.lineWidth = 2.2;
    ctx.beginPath();
    ctx.moveTo(x + 10, y); ctx.lineTo(x + 32, y);
    ctx.moveTo(x + 21, y - 8); ctx.lineTo(x + 21, y + 8);
    ctx.stroke();
    ctx.beginPath(); ctx.arc(x + 21, y, 3.6, 0, 2 * Math.PI); ctx.fillStyle = '#000'; ctx.fill();
  } else if (k === 'bkg') {
    ctx.fillStyle = '#c4c4c4';
    ctx.fillRect(x, y - 7.5, 42, 15);
  } else if (k === 'fit') {
    ctx.strokeStyle = '#ff0000'; ctx.lineWidth = 2.6;
    ctx.beginPath(); ctx.moveTo(x, y); ctx.lineTo(x + 42, y); ctx.stroke();
  } else {
    var s = COMP[k];
    ctx.strokeStyle = s.c; ctx.lineWidth = s.w;
    if (s.dash) ctx.setLineDash(s.dash);
    ctx.beginPath(); ctx.moveTo(x, y); ctx.lineTo(x + 42, y); ctx.stroke();
    ctx.setLineDash([]);
    ctx.fillStyle = s.c;
    ctx.beginPath(); ctx.arc(x + 21, y, 1.8, 0, 2 * Math.PI); ctx.fill();
  }
  ctx.restore();
}

var mainText = {
  id: 'mainText',
  afterDraw: function (chart, args, o) {
    var ctx = chart.ctx, a = chart.chartArea;
    ctx.save();
    ctx.fillStyle = '#000';
    ctx.textAlign = 'left';
    ctx.textBaseline = 'alphabetic';
    ctx.font = '28px ' + SERIF;
    ctx.fillText('LHCb', a.left + 27, a.top + 44);
    ctx.fillText('9 fb', a.left + 27, a.top + 73);
    var w9 = ctx.measureText('9 fb').width;
    ctx.font = '18px ' + SERIF;
    ctx.fillText('−1', a.left + 28 + w9, a.top + 62);
    var bx = a.left + 108, by = a.top + 61;
    ctx.font = '60px ' + SERIF;
    ctx.fillText('(', bx, by);
    bx += ctx.measureText('(').width + 1;
    ctx.font = '52px ' + SERIF;
    ctx.fillText(o.tag, bx, by);
    bx += ctx.measureText(o.tag).width + 1;
    ctx.font = '60px ' + SERIF;
    ctx.fillText(')', bx, by);

    if (o.leg) {
      o.leg.rows.forEach(function (r, i) {
        var yc = a.top + LEG_ROWS[i];
        legendSymbol(ctx, r.k, a.left + o.leg.sx, yc);
        ctx.fillStyle = '#000';
        rich(ctx, a.left + o.leg.tx, yc + 7, 20, r.t, false);
      });
    }

    ctx.save();
    ctx.translate(a.left - 47, a.top + 3);
    ctx.rotate(-Math.PI / 2);
    ctx.font = '29px ' + SERIF;
    ctx.textAlign = 'right';
    ctx.fillText('Events/0.015 (GeV)', 0, 0);
    ctx.restore();
    ctx.restore();
  }
};

var pullText = {
  id: 'pullText',
  afterDatasetsDraw: function (chart) {
    var ctx = chart.ctx, a = chart.chartArea, sy = chart.scales.y;
    ctx.save();
    ctx.strokeStyle = '#ff5a5a';
    ctx.lineWidth = 1.2;
    ctx.setLineDash([1.5, 1.5]);
    [3, -3].forEach(function (v) {
      var p = sy.getPixelForValue(v);
      ctx.beginPath(); ctx.moveTo(a.left, p); ctx.lineTo(a.right, p); ctx.stroke();
    });
    ctx.setLineDash([]);
    ctx.strokeStyle = '#ff0000';
    ctx.lineWidth = 1.8;
    var z = sy.getPixelForValue(0);
    ctx.beginPath(); ctx.moveTo(a.left, z); ctx.lineTo(a.right, z); ctx.stroke();
    ctx.restore();
  },
  afterDraw: function (chart, args, o) {
    var ctx = chart.ctx, a = chart.chartArea;
    ctx.save();
    ctx.fillStyle = '#000';
    ctx.save();
    ctx.translate(a.left - 41, (a.top + a.bottom) / 2 - 15);
    ctx.rotate(-Math.PI / 2);
    ctx.font = '29px ' + SERIF;
    ctx.textAlign = 'center';
    ctx.fillText('pull', 0, 0);
    ctx.restore();
    rich(ctx, a.right - 1, o.titleY - o.top, 29, o.xt, true);
    ctx.restore();
  }
};

function mkCanvas(left, top, w, h) {
  var c = document.createElement('canvas');
  c.width = w; c.height = h;
  c.style.left = left + 'px'; c.style.top = top + 'px';
  c.style.width = w + 'px'; c.style.height = h + 'px';
  document.body.appendChild(c);
  return c;
}

var PL = 80, PR = 30, PT = 15, PB = 15, PBX = 72;
var tickFont = { family: SERIF, size: 21 };

PANELS.forEach(function (p) {
  var L = p.box[0], T = p.box[1], R = p.box[2], B = p.box[3];

  var sets = [];
  sets.push({ data: centres(p.x0, p.data), poisson: true, order: 0, showLine: false,
    pointRadius: function (c) { return c.raw && c.raw.y > 0 ? 3.6 : 1.4; },
    pointBackgroundColor: '#000', pointBorderWidth: 0 });
  sets.push({ data: steps(p.x0, p.fit), order: 1, showLine: true, borderColor: '#ff0000', borderWidth: 2.6,
    pointRadius: 0, tension: 0 });
  p.comps.forEach(function (vals, k) {
    var s = COMP[k];
    sets.push({ data: steps(p.x0, vals), order: 9 - k, showLine: true, borderColor: s.c, borderWidth: s.w,
      borderDash: s.dash || [], tension: 0, pointBackgroundColor: s.c, pointBorderWidth: 0,
      pointRadius: function (c) { return c.raw && c.raw.c && c.raw.y > 0 ? 1.7 : 0; } });
  });
  sets.push({ data: steps(p.x0, p.bkg), order: 20, showLine: true, fill: 'origin', backgroundColor: '#c4c4c4',
    borderColor: '#ababab', borderWidth: 0.8, pointRadius: 0, tension: 0 });

  var cm = mkCanvas(L - PL, T - PT, R - L + PL + PR, B - T + PT + PB);
  new Chart(cm, {
    type: 'scatter',
    data: { datasets: sets },
    options: {
      responsive: false, animation: false, events: [],
      layout: { padding: { top: PT, right: PR, bottom: PB, left: 0 } },
      plugins: {
        legend: { display: false }, tooltip: { enabled: false },
        frame: { xmaj: p.xmaj, xmin: 0.05, ymaj: p.ymaj, ymin: p.ymin },
        mainText: { tag: p.tag, leg: p.leg }
      },
      scales: {
        x: { type: 'linear', display: false, min: p.xr[0], max: p.xr[1] },
        y: { type: 'linear', min: 0, max: p.ymax,
          afterFit: function (s) { s.width = PL; },
          afterBuildTicks: stepTicks(p.ymaj),
          grid: { display: false, drawTicks: false }, border: { display: false },
          ticks: { padding: 7, color: '#000', font: tickFont,
            callback: function (v) { return String(Math.round(v)); } } }
      }
    },
    plugins: [framePlugin, errPlugin, mainText]
  });

  var pT = p.pbox[0], pB = p.pbox[1];
  var cp = mkCanvas(L - PL, pT - PT, R - L + PL + PR, pB - pT + PT + PBX);
  var pullPts = [];
  p.pull.forEach(function (v, i) {
    var lo = p.x0 + i * BIN;
    pullPts.push({ x: lo, y: v }, { x: lo + BIN, y: v });
  });
  new Chart(cp, {
    type: 'scatter',
    data: { datasets: [{ data: pullPts, showLine: true, fill: 'origin', backgroundColor: '#1e8cff',
      borderWidth: 0, pointRadius: 0, tension: 0 }] },
    options: {
      responsive: false, animation: false, events: [],
      layout: { padding: { top: PT, right: PR, bottom: 0, left: 0 } },
      plugins: {
        legend: { display: false }, tooltip: { enabled: false },
        frame: { xmaj: p.xmaj, xmin: 0.05, ymaj: 5, ymin: 1 },
        pullText: { xt: p.xt, titleY: p.titleY, top: pT - PT }
      },
      scales: {
        x: { type: 'linear', min: p.xr[0], max: p.xr[1],
          afterFit: function (s) { s.height = PBX; },
          afterBuildTicks: stepTicks(p.xmaj),
          grid: { display: false, drawTicks: false }, border: { display: false },
          ticks: { autoSkip: false, maxRotation: 0, padding: 5, color: '#000', font: tickFont,
            callback: function (v) { return Number(v).toFixed(p.dec); } } },
        y: { type: 'linear', min: -5, max: 5,
          afterFit: function (s) { s.width = PL; },
          afterBuildTicks: stepTicks(5),
          grid: { display: false, drawTicks: false }, border: { display: false },
          ticks: { padding: 7, color: '#000', font: tickFont,
            callback: function (v) { return String(Math.round(v)).replace('-', '−'); } } }
      }
    },
    plugins: [framePlugin, pullText]
  });
});
</script>
<div id="box"></div>
</body>
</html>
